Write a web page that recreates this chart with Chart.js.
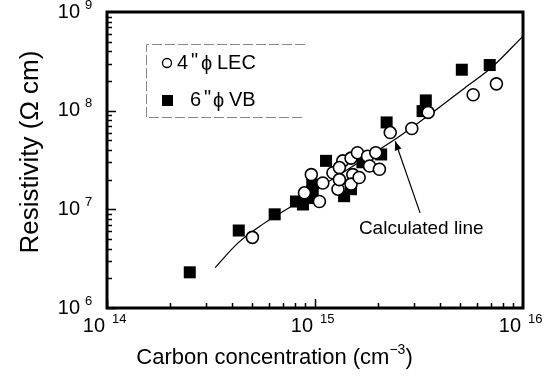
<!DOCTYPE html>
<html>
<head>
<meta charset="utf-8">
<script src="https://cdn.jsdelivr.net/npm/chart.js@4.4.1/dist/chart.umd.min.js"></script>
<style>
  html, body { margin:0; padding:0; background:#fff; }
</style>
</head>
<body>
<canvas id="chart" width="549" height="381"></canvas>
<script>
// 4" LEC wafers (open circles)
const lecCarbon = [5.0e14, 8.9e14, 9.6e14, 1.05e15, 1.09e15, 1.22e15, 1.29e15, 1.36e15, 1.31e15, 1.52e15,
                   1.49e15, 1.49e15, 1.60e15, 1.63e15, 1.79e15, 1.83e15, 2.04e15, 1.31e15, 1.96e15, 2.30e15,
                   2.92e15, 3.50e15, 5.76e15, 7.45e15];
const lecResist = [5.2e6, 1.47e7, 2.25e7, 1.2e7, 1.85e7, 2.35e7, 1.6e7, 3.1e7, 2.65e7, 2.25e7,
                   1.8e7, 3.3e7, 3.75e7, 2.1e7, 3.45e7, 2.75e7, 2.55e7, 2.0e7, 3.75e7, 6.0e7,
                   6.6e7, 9.6e7, 1.45e8, 1.87e8];

// 6" VB wafers (filled squares)
const vbCarbon = [2.5e14, 4.3e14, 6.4e14, 8.1e14, 8.75e14, 9.75e14, 9.4e14, 9.7e14, 1.13e15, 1.38e15,
                  1.49e15, 1.69e15, 2.08e15, 2.21e15, 3.29e15, 3.41e15, 5.08e15, 6.92e15];
const vbResist = [2.3e6, 6.1e6, 8.9e6, 1.2e7, 1.12e7, 1.53e7, 1.3e7, 1.78e7, 3.1e7, 1.36e7,
                  1.6e7, 3.0e7, 3.6e7, 7.6e7, 9.9e7, 1.27e8, 2.6e8, 2.9e8];

// calculated line
const calcCarbon = [3.31e14, 4.27e14, 5.62e14, 7.94e14, 1.12e15, 1.58e15, 2.51e15, 3.72e15, 5.25e15, 7.08e15, 1.0e16];
const calcResist = [2.57e6, 4.57e6, 7.08e6, 1.12e7, 1.82e7, 2.88e7, 5.37e7, 9.77e7, 1.70e8, 2.75e8, 5.7e8];

// axis decades (tick labels are 10^n)
const xExponents = [14, 15, 16];
const yExponents = [6, 7, 8, 9];

const FONT = '"Liberation Sans", Arial, sans-serif';

const toPts = (xs, ys) => xs.map((x, i) => ({ x, y: ys[i] }));

const decorations = {
  id: 'decorations',
  afterDraw(chart) {
    const ctx = chart.ctx;
    const { left, right, top, bottom } = chart.chartArea;
    const xs = chart.scales.x, ys = chart.scales.y;
    ctx.save();
    ctx.fillStyle = '#000';
    ctx.strokeStyle = '#000';

    // inward ticks, bottom axis
    ctx.lineWidth = 1.5;
    for (let e = xExponents[0]; e < xExponents[xExponents.length - 1]; e++) {
      for (let k = 1; k <= 9; k++) {
        const px = Math.round(xs.getPixelForValue(k * Math.pow(10, e))) + 0.5;
        const len = k === 1 ? 9 : 5;
        ctx.beginPath(); ctx.moveTo(px, bottom); ctx.lineTo(px, bottom - len); ctx.stroke();
      }
    }
    // inward ticks, left axis
    for (let e = yExponents[0]; e < yExponents[yExponents.length - 1]; e++) {
      for (let k = 1; k <= 9; k++) {
        const py = Math.round(ys.getPixelForValue(k * Math.pow(10, e))) + 0.5;
        const len = k === 1 ? 9 : 5;
        ctx.beginPath(); ctx.moveTo(left, py); ctx.lineTo(left + len, py); ctx.stroke();
      }
    }

    // frame
    ctx.lineWidth = 3;
    ctx.strokeRect(left, top, right - left, bottom - top);

    // tick labels: "10" then a raised exponent
    ctx.textBaseline = 'middle';
    xExponents.forEach(e => {
      const px = xs.getPixelForValue(Math.pow(10, e));
      ctx.font = '20px ' + FONT;
      ctx.textAlign = 'right';
      ctx.fillText('10', px - 2, bottom + 18);
      ctx.font = '13px ' + FONT;
      ctx.textAlign = 'left';
      ctx.fillText(String(e), px + 5, bottom + 11);
    });
    yExponents.forEach(e => {
      const py = ys.getPixelForValue(Math.pow(10, e));
      ctx.font = '20px ' + FONT;
      ctx.textAlign = 'right';
      ctx.fillText('10', left - 27, py);
      ctx.font = '13px ' + FONT;
      ctx.textAlign = 'left';
      ctx.fillText(String(e), left - 22, py - 7);
    });

    // x title, centred on the figure
    const t1 = 'Carbon concentration (cm', t2 = '\u22123', t3 = ')';
    ctx.font = '22px ' + FONT;
    const w1 = ctx.measureText(t1).width, w3 = ctx.measureText(t3).width;
    ctx.font = '14px ' + FONT;
    const w2 = ctx.measureText(t2).width;
    let tx = chart.width / 2 - (w1 + w2 + w3) / 2;
    const ty = 358;
    ctx.textAlign = 'left';
    ctx.font = '22px ' + FONT; ctx.fillText(t1, tx, ty); tx += w1;
    ctx.font = '14px ' + FONT; ctx.fillText(t2, tx, ty - 8); tx += w2;
    ctx.font = '22px ' + FONT; ctx.fillText(t3, tx, ty);

    // y title
    ctx.save();
    ctx.translate(31, 152);
    ctx.rotate(-Math.PI / 2);
    ctx.textAlign = 'center';
    ctx.font = '26px ' + FONT;
    ctx.fillText('Resistivity (\u03A9 cm)', 0, 0);
    ctx.restore();

    // legend box (top, bottom, left edges only)
    ctx.strokeStyle = '#888';
    ctx.lineWidth = 1;
    ctx.setLineDash([10, 3]);
    ctx.beginPath();
    ctx.moveTo(305, 44.5); ctx.lineTo(146.5, 44.5); ctx.lineTo(146.5, 117.5); ctx.lineTo(305, 117.5);
    ctx.stroke();
    ctx.setLineDash([]);

    // legend entries
    const lec = chart.data.datasets[0], vb = chart.data.datasets[1];
    ctx.strokeStyle = lec.borderColor;
    ctx.fillStyle = lec.backgroundColor;
    ctx.lineWidth = 1.3;
    ctx.beginPath(); ctx.arc(167, 63, 4.5, 0, Math.PI * 2); ctx.fill(); ctx.stroke();
    ctx.fillStyle = vb.backgroundColor;
    ctx.fillRect(162, 95, 11, 11);

    ctx.fillStyle = '#000';
    ctx.font = '20px ' + FONT;
    ctx.textBaseline = 'middle';
    ctx.textAlign = 'left';
    ctx.fillText('4', 177, 63);
    ctx.fillText('"', 191, 61);
    ctx.fillText('\u03D5', 201, 64);
    ctx.fillText('LEC', 217, 63);
    ctx.fillText('6', 190, 100);
    ctx.fillText('"', 204, 98);
    ctx.fillText('\u03D5', 213, 101);
    ctx.fillText('VB', 229, 100);

    // "Calculated line" annotation with arrow
    const tip = { x: xs.getPixelForValue(2.43e15), y: ys.getPixelForValue(4.9e7) };
    const tail = { x: xs.getPixelForValue(3.2e15), y: ys.getPixelForValue(9.2e6) };
    ctx.strokeStyle = '#000';
    ctx.lineWidth = 1.2;
    ctx.beginPath(); ctx.moveTo(tail.x, tail.y); ctx.lineTo(tip.x, tip.y); ctx.stroke();
    const ang = Math.atan2(tip.y - tail.y, tip.x - tail.x);
    ctx.beginPath();
    ctx.moveTo(tip.x, tip.y);
    ctx.lineTo(tip.x - 9 * Math.cos(ang) + 3.5 * Math.sin(ang), tip.y - 9 * Math.sin(ang) - 3.5 * Math.cos(ang));
    ctx.lineTo(tip.x - 9 * Math.cos(ang) - 3.5 * Math.sin(ang), tip.y - 9 * Math.sin(ang) + 3.5 * Math.cos(ang));
    ctx.closePath();
    ctx.fill();

    ctx.font = '19px ' + FONT;
    ctx.textAlign = 'center';
    ctx.fillText('Calculated line', xs.getPixelForValue(3.24e15), ys.getPixelForValue(6.3e6));
    ctx.restore();
  }
};

new Chart(document.getElementById('chart').getContext('2d'), {
  type: 'scatter',
  data: {
    datasets: [
      { label: '4" \u03D5LEC', data: toPts(lecCarbon, lecResist), pointStyle: 'circle', pointRadius: 6,
        backgroundColor: '#fff', borderColor: '#000', borderWidth: 1.6 },
      { label: '6" \u03D5VB', data: toPts(vbCarbon, vbResist), pointStyle: 'rect', pointRadius: 8.5,
        backgroundColor: '#000', borderColor: '#000', borderWidth: 0 },
      { label: 'Calculated line', type: 'line', data: toPts(calcCarbon, calcResist), showLine: true,
        borderColor: '#000', borderWidth: 1.2, pointRadius: 0, fill: false,
        cubicInterpolationMode: 'monotone' }
    ]
  },
  options: {
    responsive: false,
    animation: false,
    layout: { padding: { left: 107, top: 12, right: 26, bottom: 73 } },
    plugins: { legend: { display: false }, tooltip: { enabled: false } },
    scales: {
      x: { type: 'logarithmic', min: 1e14, max: 1e16, display: false },
      y: { type: 'logarithmic', min: 1e6, max: 1e9, display: false }
    }
  },
  plugins: [decorations]
});
</script>
</body>
</html>
